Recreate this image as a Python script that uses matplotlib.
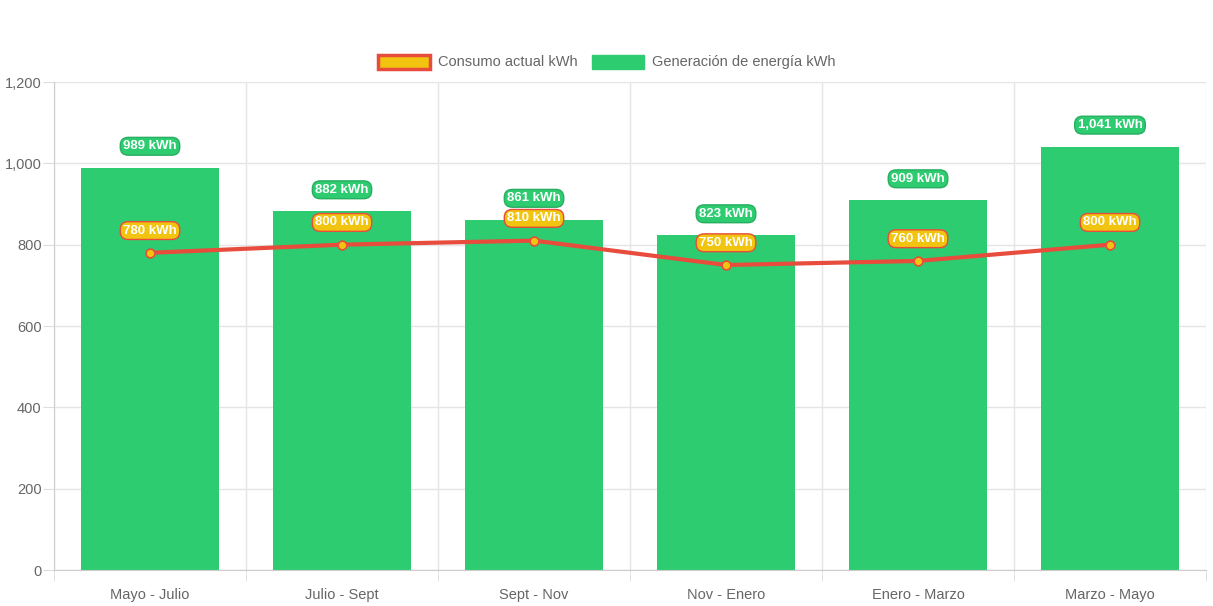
import numpy as np
import matplotlib.pyplot as plt
from matplotlib.patches import Patch
from matplotlib.ticker import FuncFormatter, FixedLocator

periodos = ['Mayo - Julio', 'Julio - Sept', 'Sept - Nov', 'Nov - Enero', 'Enero - Marzo', 'Marzo - Mayo']
generacion = [989, 882, 861, 823, 909, 1041]
consumo = [780, 800, 810, 750, 760, 800]

verde = '#2ecc71'
amarillo = '#f1c40f'
rojo = '#e74c3c'
gris = '#666666'

plt.rcParams['font.family'] = ['Liberation Sans', 'DejaVu Sans']

fig = plt.figure(figsize=(12.13, 6.06), dpi=100)
ax = fig.add_axes([54/1213, 1 - 570/606, (1206-54)/1213, (570-82)/606])

x = np.arange(len(periodos))
ax.bar(x, generacion, width=0.72, color=verde, zorder=2)
ax.plot(x, consumo, color=rojo, lw=3, zorder=3)
ax.scatter(x, consumo, s=40, color=amarillo, edgecolor=rojo, linewidth=1.2, zorder=4)

for xi, v in zip(x, generacion):
    ax.annotate(f'{v:,} kWh', (xi, v), xytext=(0, 15.5), textcoords='offset points',
                ha='center', va='center', color='white', fontsize=9.5, fontweight='bold', zorder=6,
                bbox=dict(boxstyle='round,pad=0.22,rounding_size=0.6', fc=verde, ec='#27ae60', lw=1))
for xi, v in zip(x, consumo):
    ax.annotate(f'{v:,} kWh', (xi, v), xytext=(0, 16), textcoords='offset points',
                ha='center', va='center', color='white', fontsize=9.5, fontweight='bold', zorder=6,
                bbox=dict(boxstyle='round,pad=0.22,rounding_size=0.6', fc=amarillo, ec=rojo, lw=1))

ax.set_xlim(-0.5, 5.5)
ax.set_ylim(0, 1200)
ax.set_yticks(np.arange(0, 1201, 200))
ax.yaxis.set_major_formatter(FuncFormatter(lambda v, p: f'{int(v):,}'))
ax.set_xticks(x)
ax.set_xticklabels(periodos)
ax.xaxis.set_minor_locator(FixedLocator(np.arange(-0.5, 6, 1)))
ax.tick_params(axis='x', which='major', length=0, pad=13, labelsize=10.5, labelcolor=gris)
ax.tick_params(axis='x', which='minor', length=8, color='#dddddd')
ax.tick_params(axis='y', length=8, color='#dddddd', labelsize=10.5, labelcolor=gris, pad=1)
ax.grid(axis='y', color='#e5e5e5', lw=1, zorder=0)
ax.grid(axis='x', which='minor', color='#e5e5e5', lw=1, zorder=0)
for s in ['top', 'right']:
    ax.spines[s].set_visible(False)
ax.spines['left'].set_color('#cccccc')
ax.spines['bottom'].set_color('#cccccc')

handles = [Patch(facecolor=amarillo, edgecolor=rojo, lw=2.5, label='Consumo actual kWh'),
           Patch(facecolor=verde, edgecolor=verde, label='Generación de energía kWh')]
leg = fig.legend(handles=handles, loc='center', bbox_to_anchor=(0.5, 1 - 62/606), ncol=2,
                 frameon=False, fontsize=10.5, handlelength=3.6, handleheight=1.1,
                 columnspacing=1.0, handletextpad=0.5)
for t in leg.get_texts():
    t.set_color(gris)

fig.savefig('out.png', dpi=100)
